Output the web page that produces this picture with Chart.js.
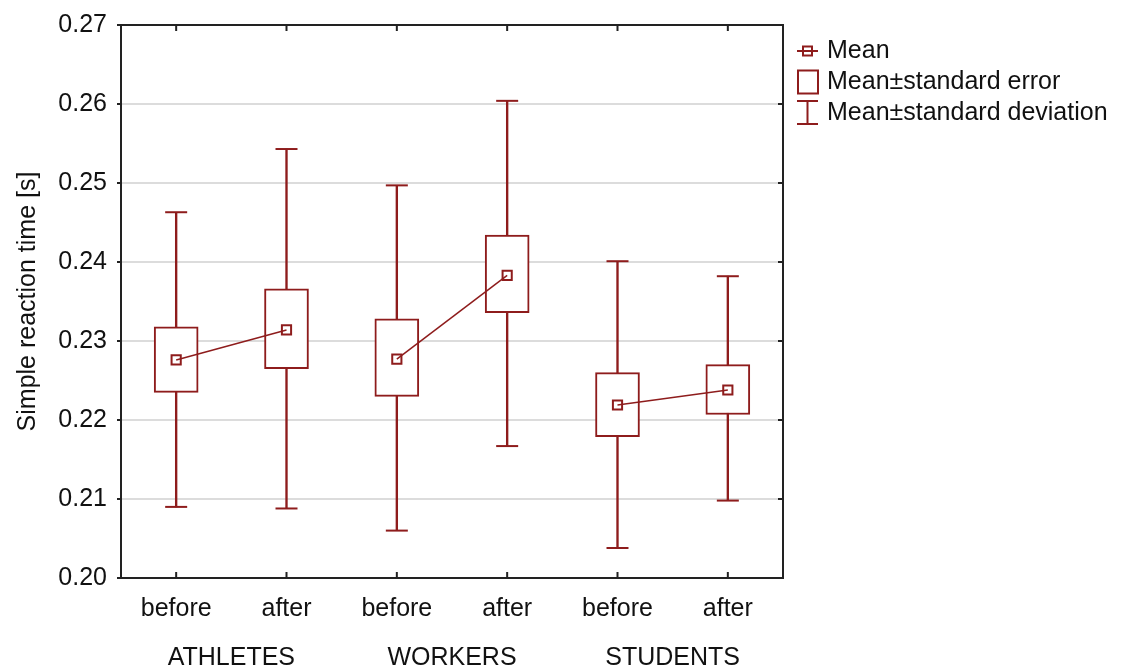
<!DOCTYPE html>
<html>
<head>
<meta charset="utf-8">
<script src="https://cdn.jsdelivr.net/npm/chart.js@4"></script>
<style>
  body { margin: 0; background: #fff; }
  #wrap { width: 1123px; height: 668px; }
</style>
</head>
<body>
<div id="wrap"><canvas id="reaction-chart"></canvas></div>
<script>
// values
const categories = ['before', 'after', 'before', 'after', 'before', 'after'];
const groups = ['ATHLETES', 'WORKERS', 'STUDENTS'];
const means  = [0.2276, 0.2314, 0.2277, 0.2383, 0.2219, 0.2238];
const seLow  = [0.2235, 0.2265, 0.2230, 0.2336, 0.2179, 0.2207];
const seHigh = [0.2318, 0.2366, 0.2328, 0.2434, 0.2260, 0.2270];
const sdLow  = [0.2090, 0.2088, 0.2060, 0.2167, 0.2038, 0.2098];
const sdHigh = [0.2463, 0.2543, 0.2497, 0.2604, 0.2401, 0.2382];
const legendLabels = ['Mean', 'Mean\u00b1standard error', 'Mean\u00b1standard deviation'];

const RED = '#8e1c1c';
const INK = '#111111';
const FONT = "'Liberation Sans', Arial, sans-serif";

// frame with inward ticks + the legend on the right
const framePlugin = {
    id: 'frame',
    afterDraw(chart) {
        const { ctx, chartArea: a, scales } = chart;
        ctx.save();
        ctx.strokeStyle = '#222';
        ctx.lineWidth = 2;
        ctx.strokeRect(a.left, a.top, a.right - a.left, a.bottom - a.top);
        ctx.beginPath();
        scales.x.ticks.forEach((t, i) => {
            const px = scales.x.getPixelForTick(i);
            ctx.moveTo(px, a.bottom); ctx.lineTo(px, a.bottom - 6);
            ctx.moveTo(px, a.top); ctx.lineTo(px, a.top + 6);
        });
        scales.y.ticks.forEach((t, i) => {
            const py = scales.y.getPixelForTick(i);
            ctx.moveTo(a.right, py); ctx.lineTo(a.right - 5, py);
        });
        ctx.stroke();

        // legend
        const lx = a.right + 14;
        const rows = [51, 82, 113];
        ctx.strokeStyle = RED;
        ctx.lineWidth = 2;
        ctx.beginPath();
        ctx.moveTo(lx, rows[0]); ctx.lineTo(lx + 21, rows[0]);
        ctx.stroke();
        ctx.strokeRect(lx + 6, rows[0] - 4.5, 9, 9);
        ctx.strokeRect(lx + 1, rows[1] - 11.5, 20, 23);
        ctx.beginPath();
        ctx.moveTo(lx, rows[2] - 12); ctx.lineTo(lx + 21, rows[2] - 12);
        ctx.moveTo(lx + 10.5, rows[2] - 12); ctx.lineTo(lx + 10.5, rows[2] + 11);
        ctx.moveTo(lx, rows[2] + 11); ctx.lineTo(lx + 21, rows[2] + 11);
        ctx.stroke();

        ctx.fillStyle = INK;
        ctx.font = '25px ' + FONT;
        ctx.textBaseline = 'middle';
        legendLabels.forEach((txt, i) => ctx.fillText(txt, lx + 30, rows[i]));
        ctx.restore();
    }
};

const reactionChart = new Chart(document.getElementById('reaction-chart'), {
    type: 'bar',
    data: {
        labels: categories,
        datasets: [
            {
                type: 'line',
                label: 'Mean',
                data: means,
                order: 0,
                borderColor: RED,
                borderWidth: 1.5,
                tension: 0,
                pointStyle: 'rect',
                pointRadius: 6.5,
                pointBorderWidth: 2,
                pointBackgroundColor: 'rgba(0,0,0,0)',
                pointBorderColor: RED,
                segment: {
                    borderColor: ctx => ctx.p0DataIndex % 2 === 0 ? RED : 'rgba(0,0,0,0)'
                }
            },
            {
                label: 'Mean±standard error',
                data: seLow.map((v, i) => [v, seHigh[i]]),
                order: 1,
                grouped: false,
                barThickness: 44,
                backgroundColor: '#ffffff',
                borderColor: RED,
                borderWidth: 2,
                borderSkipped: false
            },
            {
                type: 'line',
                label: 'sd high cap',
                data: sdHigh,
                order: 2,
                showLine: false,
                pointStyle: 'line',
                pointRadius: 11,
                pointBorderWidth: 2,
                pointBorderColor: RED
            },
            {
                type: 'line',
                label: 'sd low cap',
                data: sdLow,
                order: 2,
                showLine: false,
                pointStyle: 'line',
                pointRadius: 11,
                pointBorderWidth: 2,
                pointBorderColor: RED
            },
            {
                label: 'Mean±standard deviation',
                data: sdLow.map((v, i) => [v, sdHigh[i]]),
                order: 3,
                grouped: false,
                barThickness: 1.7,
                backgroundColor: RED,
                borderWidth: 0
            }
        ]
    },
    options: {
        responsive: true,
        maintainAspectRatio: false,
        animation: false,
        events: [],
        layout: { padding: { left: 0, top: 24, right: 340, bottom: 0 } },
        plugins: {
            legend: { display: false },
            tooltip: { enabled: false }
        },
        scales: {
            x: {
                type: 'category',
                offset: true,
                grid: { display: false, drawTicks: false },
                border: { color: '#222', width: 2 },
                ticks: { color: INK, font: { family: FONT, size: 25 }, padding: 16 },
                afterFit: scale => { scale.height = 52; }
            },
            x2: {
                type: 'category',
                position: 'bottom',
                labels: groups,
                offset: true,
                grid: { display: false, drawTicks: false },
                border: { display: false },
                ticks: { color: INK, font: { family: FONT, size: 25 }, padding: 13 },
                afterFit: scale => { scale.height = 38; }
            },
            y: {
                min: 0.20,
                max: 0.27,
                ticks: {
                    stepSize: 0.01,
                    color: INK,
                    font: { family: FONT, size: 25 },
                    padding: 10,
                    callback: value => value.toFixed(2)
                },
                grid: { color: '#dcdcdc', lineWidth: 2, tickColor: '#222', tickLength: 4 },
                border: { color: '#222', width: 2 },
                title: {
                    display: true,
                    text: 'Simple reaction time [s]',
                    color: INK,
                    font: { family: FONT, size: 25 },
                    padding: { top: 13, bottom: 0 }
                },
                afterFit: scale => { scale.width = 121; }
            }
        }
    },
    plugins: [framePlugin]
});
</script>
</body>
</html>
